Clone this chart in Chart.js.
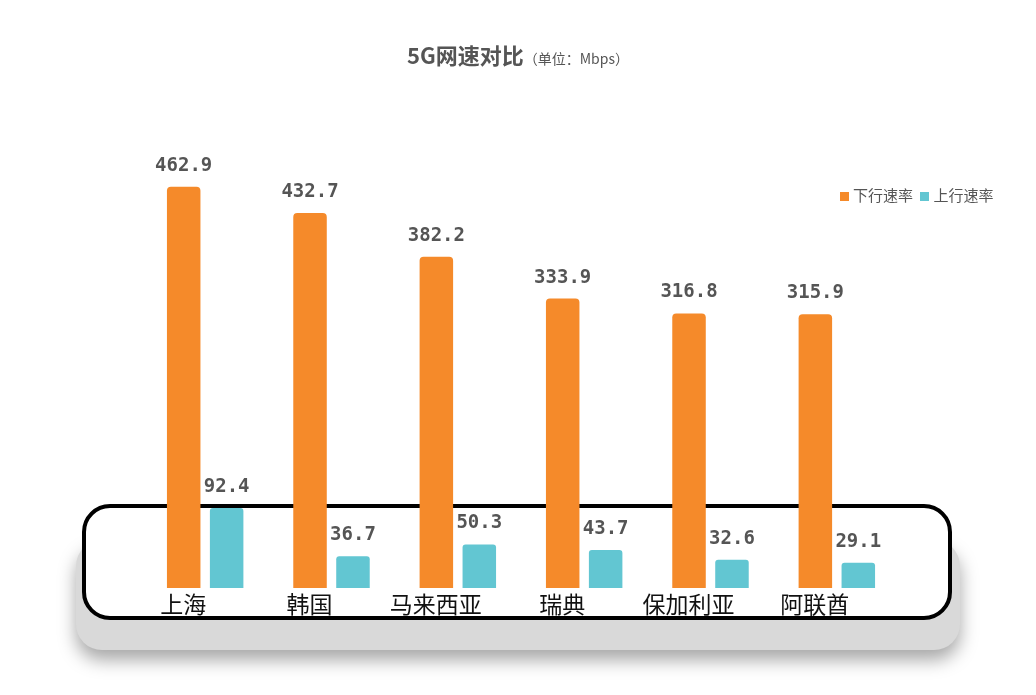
<!DOCTYPE html>
<html><head><meta charset="utf-8">
<script src="https://cdn.jsdelivr.net/npm/chart.js@4/dist/chart.umd.min.js"></script>
<style>
body{margin:0;background:#fff;font-family:"Noto Sans CJK SC","Noto Sans",sans-serif}
#wrap{position:relative;width:1036px;height:695px}
#title{position:absolute;top:38px;left:0;width:1036px;text-align:center;color:#555;font-size:22px;font-weight:bold}
#title span{font-size:14px;font-weight:normal}
#legend{position:absolute;top:184px;left:840px;font-size:15px;color:#555}
#legend i{display:inline-block;width:9px;height:9px;margin-right:4px}
</style></head><body>
<div id="wrap">
<canvas id="c" width="1036" height="695"></canvas>
<div id="title">5G网速对比<span>（单位：Mbps）</span></div>
<div id="legend"><i style="background:#F58A2A"></i>下行速率 <i style="background:#62C6D2;margin-left:4px"></i>上行速率</div>
</div>
<script>
const categories = ['上海', '韩国', '马来西亚', '瑞典', '保加利亚', '阿联酋'];
const download = [462.9, 432.7, 382.2, 333.9, 316.8, 315.9];
const upload = [92.4, 36.7, 50.3, 43.7, 32.6, 29.1];

// phone frame behind bars + category labels + value labels
const decor = {
    id: 'decor',
    beforeDatasetsDraw(chart) {
        const c = chart.ctx;
        c.save();
        c.shadowColor = 'rgba(0,0,0,0.35)';
        c.shadowBlur = 18;
        c.shadowOffsetY = 10;
        c.fillStyle = '#d9d9d9';
        c.beginPath(); c.roundRect(76, 540, 884, 110, 26); c.fill();
        c.restore();
        c.save();
        c.fillStyle = '#fff';
        c.strokeStyle = '#000';
        c.lineWidth = 4;
        c.beginPath(); c.roundRect(84, 506, 866, 112, 26); c.fill(); c.stroke();
        c.restore();
    },
    afterDatasetsDraw(chart) {
        const c = chart.ctx;
        const x = chart.scales.x;
        c.save();
        c.textAlign = 'center';
        c.fillStyle = '#111';
        c.font = '23px "Noto Sans CJK SC"';
        categories.forEach((t, i) => c.fillText(t, x.getPixelForValue(i) - 22, 613));
        c.fillStyle = '#555';
        c.font = 'bold 19px "DejaVu Sans Mono"';
        chart.data.datasets.forEach((ds, di) => {
            chart.getDatasetMeta(di).data.forEach((bar, i) => {
                c.fillText(ds.data[i].toFixed(1), bar.x, bar.y - 16);
            });
        });
        c.restore();
    }
};

new Chart(document.getElementById('c'), {
    type: 'bar',
    data: {
        labels: categories,
        datasets: [
            { label: '下行速率', data: download, backgroundColor: '#F58A2A', borderRadius: 4 },
            { label: '上行速率', data: upload, backgroundColor: '#62C6D2', borderRadius: 3 }
        ]
    },
    options: {
        responsive: false,
        animation: false,
        layout: { padding: { left: 142, right: 136, top: 100, bottom: 107 } },
        categoryPercentage: 0.68,
        barPercentage: 0.78,
        scales: {
            x: { display: false },
            y: { display: false, min: 0, max: 563 }
        },
        plugins: { legend: { display: false }, tooltip: { enabled: false } }
    },
    plugins: [decor]
});
</script>
</body></html>
